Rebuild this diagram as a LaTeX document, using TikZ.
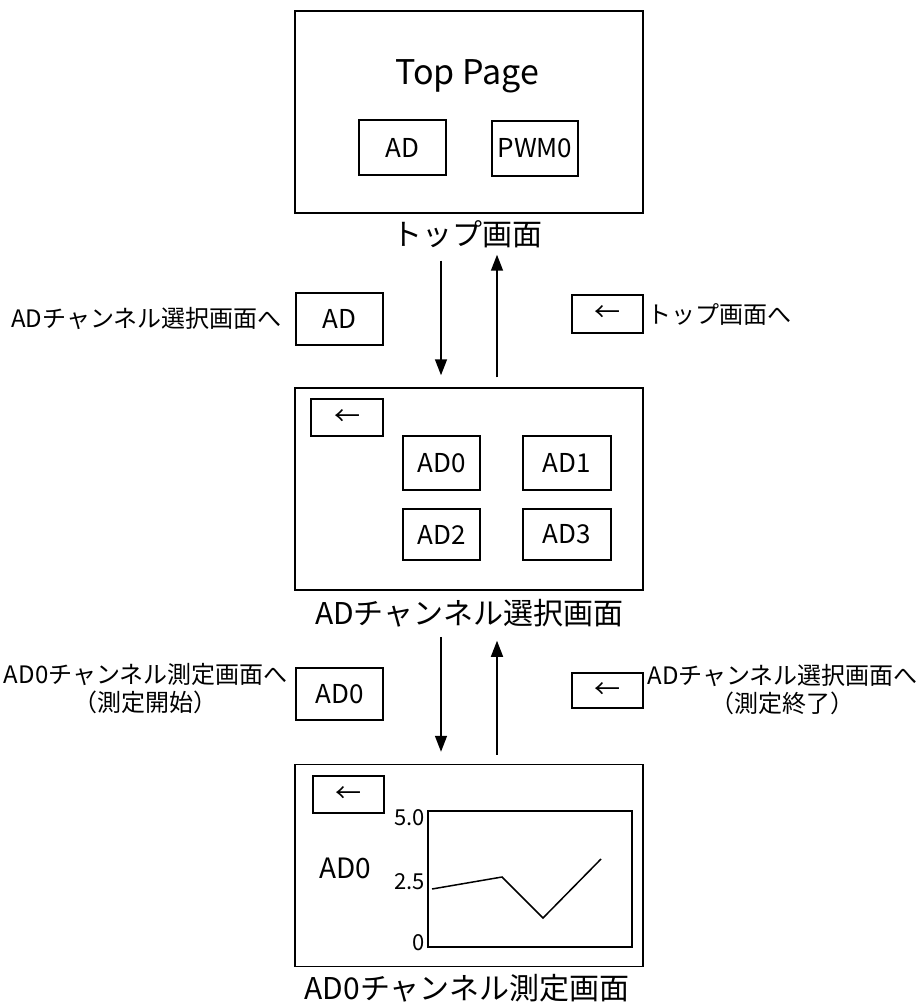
\documentclass[tikz,border=0pt]{standalone}
\usepackage{fontspec}
\setmainfont{Noto Sans CJK JP}
\usetikzlibrary{arrows.meta,calc}

\begin{document}
\begin{tikzpicture}[
  x=0.5pt, y=-0.5pt,
  screen/.style={draw, line width=0.75pt, minimum width=174pt, minimum height=101pt, inner sep=0pt},
  btn/.style={draw, line width=0.75pt, inner sep=0pt, font=\fontsize{13}{15}\selectfont},
  pgcap/.style={font=\fontsize{15}{17}\selectfont},
  lbl/.style={align=center, inner sep=0pt, font=\fontsize{12}{14}\selectfont},
  ticklbl/.style={anchor=east, inner sep=0pt, font=\fontsize{11}{13}\selectfont},
  arr/.style={-{Triangle[width=6pt,length=8pt]}, line width=0.75pt}
]
  \useasboundingbox (0,0) rectangle (920,1005);

  % screens
  \node[screen] (top) at (469,112) {};
  \node[screen] (mid) at (469,489) {};
  \node[screen] (bot) at (469,865.5) {};

  % top page
  \node[font=\fontsize{17}{20}\selectfont] (title) at (467,76) {Top Page};
  \node[btn, minimum width=43.5pt, minimum height=27.5pt] (topAD) at (402.5,147.5) {AD};
  \node[btn, minimum width=43pt, minimum height=27.5pt] (topPWM) at (535,148.5) {PWM0};
  \node[pgcap] (capTop) at (467,234) {トップ画面};

  % channel select page
  \node[btn, minimum width=36pt, minimum height=18.5pt] (midBack) at (347,417.5) {←};
  \node[btn, minimum width=38.5pt, minimum height=27pt] (chA) at (441.5,463) {AD0};
  \node[btn, minimum width=44pt, minimum height=27pt] (chB) at (567,463) {AD1};
  \node[btn, minimum width=38.5pt, minimum height=25.5pt] (chC) at (441.5,534.5) {AD2};
  \node[btn, minimum width=44pt, minimum height=25.5pt] (chD) at (567,534.5) {AD3};
  \node[pgcap] (capMid) at (469,613) {ADチャンネル選択画面};

  % measurement page
  \node[btn, minimum width=35.5pt, minimum height=18.5pt] (botBack) at (348.5,794.5) {←};
  \node[draw, line width=0.75pt, minimum width=102pt, minimum height=68pt, inner sep=0pt] (graph) at (530,879) {};
  \node[font=\fontsize{14}{16}\selectfont] (chName) at (345,868) {AD0};
  \node[ticklbl] (t50) at (425,818) {5.0};
  \node[ticklbl] (t25) at (425,882) {2.5};
  \node[ticklbl] (t00) at (425,943) {0};
  \draw[line width=0.75pt] (432,889) -- (502,877) -- (543,918) -- (601,859);
  \node[pgcap] (capBot) at (467,988) {AD0チャンネル測定画面};

  % transitions top <-> select
  \draw[arr] ($(top.south)+(-28,47)$) -- ($(mid.north)+(-28,-12)$);
  \draw[arr] ($(mid.north)+(28,-10)$) -- ($(top.south)+(28,41)$);
  \node[btn, minimum width=43.5pt, minimum height=26pt] (goAD) at (339.5,319) {AD};
  \node[lbl, anchor=east] (goADtxt) at (282,319) {ADチャンネル選択画面へ};
  \node[btn, minimum width=35.5pt, minimum height=19pt] (backTop) at (607.5,314) {←};
  \node[lbl, anchor=west] (backToptxt) at (647,314) {トップ画面へ};

  % transitions select <-> measurement
  \draw[arr] ($(mid.south)+(-28,46)$) -- ($(bot.north)+(-28,-12)$);
  \draw[arr] ($(bot.north)+(28,-9)$) -- ($(mid.south)+(28,50)$);
  \node[btn, minimum width=43.5pt, minimum height=26pt] (goAD0) at (339.5,694) {AD0};
  \node[lbl, anchor=east] (goAD0txt) at (288,689) {AD0チャンネル測定画面へ\\（測定開始）};
  \node[btn, minimum width=35.5pt, minimum height=17.5pt] (backSel) at (607.5,690.5) {←};
  \node[lbl, anchor=west] (backSeltxt) at (647,690) {ADチャンネル選択画面へ\\（測定終了）};
\end{tikzpicture}
\end{document}
